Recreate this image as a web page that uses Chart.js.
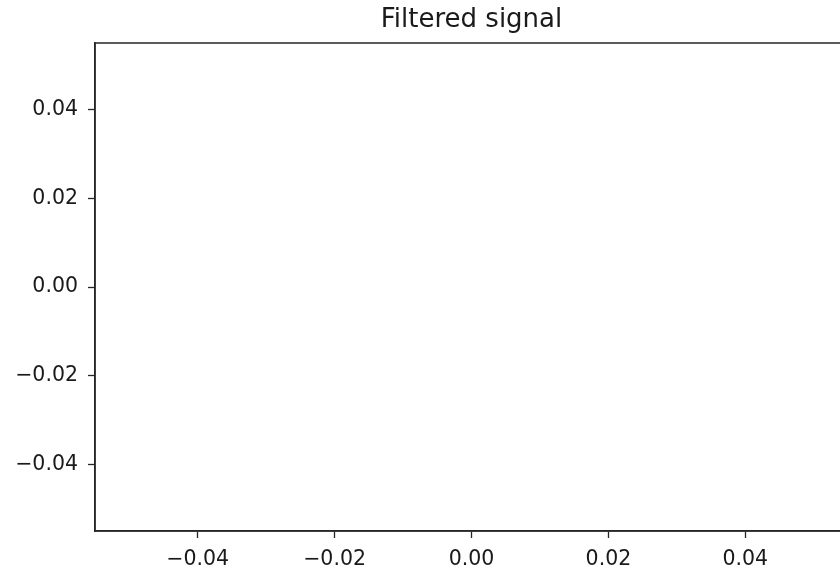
<!DOCTYPE html>
<html>
<head>
<meta charset="utf-8">
<script src="https://cdn.jsdelivr.net/npm/chart.js@4/dist/chart.umd.min.js"></script>
<style>
  html, body { margin: 0; padding: 0; background: #fff; overflow: hidden; width: 840px; height: 571px; }
  #wrap { position: relative; width: 860px; height: 571px; }
</style>
</head>
<body>
<div id="wrap"><canvas id="c"></canvas></div>
<script>
// Data (the filtered signal is empty in the reference)
const signalX = [];
const signalY = [];
const chartTitle = 'Filtered signal';
const xTickValues = [-0.04, -0.02, 0.00, 0.02, 0.04];
const yTickValues = [-0.04, -0.02, 0.00, 0.02, 0.04];
const xRange = [-0.055, 0.055];
const yRange = [-0.055, 0.055];

const points = signalX.map((x, i) => ({ x: x, y: signalY[i] }));

const fmt = v => {
  const s = Math.abs(v).toFixed(2);
  return v < -1e-12 ? '\u2212' + s : s;
};

const frame = {
  id: 'frame',
  afterDatasetsDraw(chart) {
    const a = chart.chartArea;
    const ctx = chart.ctx;
    ctx.save();
    ctx.strokeStyle = '#262626';
    ctx.lineWidth = 1.5;
    ctx.strokeRect(a.left, a.top, a.right - a.left, a.bottom - a.top);
    ctx.restore();
  }
};

const tickFont = { family: 'DejaVu Sans', size: 20.5 };

new Chart(document.getElementById('c'), {
  type: 'scatter',
  data: { datasets: [{ data: points, borderColor: '#1f77b4', backgroundColor: '#1f77b4', showLine: true, pointRadius: 0 }] },
  options: {
    responsive: true,
    maintainAspectRatio: false,
    animation: false,
    layout: { padding: { left: 0, right: 12, top: 0, bottom: 0 } },
    plugins: {
      legend: { display: false },
      tooltip: { enabled: false },
      title: {
        display: true,
        text: chartTitle,
        fullSize: false,
        color: '#1a1a1a',
        font: { family: 'DejaVu Sans', size: 26, weight: 'normal', lineHeight: 1.2 },
        padding: { top: 5, bottom: 6.8 }
      }
    },
    scales: {
      x: {
        type: 'linear',
        min: xRange[0], max: xRange[1],
        afterBuildTicks: s => { s.ticks = xTickValues.map(v => ({ value: v })); },
        afterFit: s => { s.height = 40; },
        grid: { display: true, drawOnChartArea: false, drawTicks: true, tickLength: 7, tickWidth: 1.3, tickColor: '#262626' },
        border: { display: true, color: '#262626', width: 1.5 },
        ticks: { color: '#1a1a1a', font: tickFont, padding: 9, maxRotation: 0, autoSkip: false, callback: v => fmt(v) }
      },
      y: {
        type: 'linear',
        min: yRange[0], max: yRange[1],
        afterBuildTicks: s => { s.ticks = yTickValues.map(v => ({ value: v })); },
        afterFit: s => { s.width = 95; },
        grid: { display: true, drawOnChartArea: false, drawTicks: true, tickLength: 7, tickWidth: 1.3, tickColor: '#262626' },
        border: { display: true, color: '#262626', width: 1.5 },
        ticks: { color: '#1a1a1a', font: tickFont, padding: 10, autoSkip: false, callback: v => fmt(v) }
      }
    }
  },
  plugins: [frame]
});
</script>
</body>
</html>
